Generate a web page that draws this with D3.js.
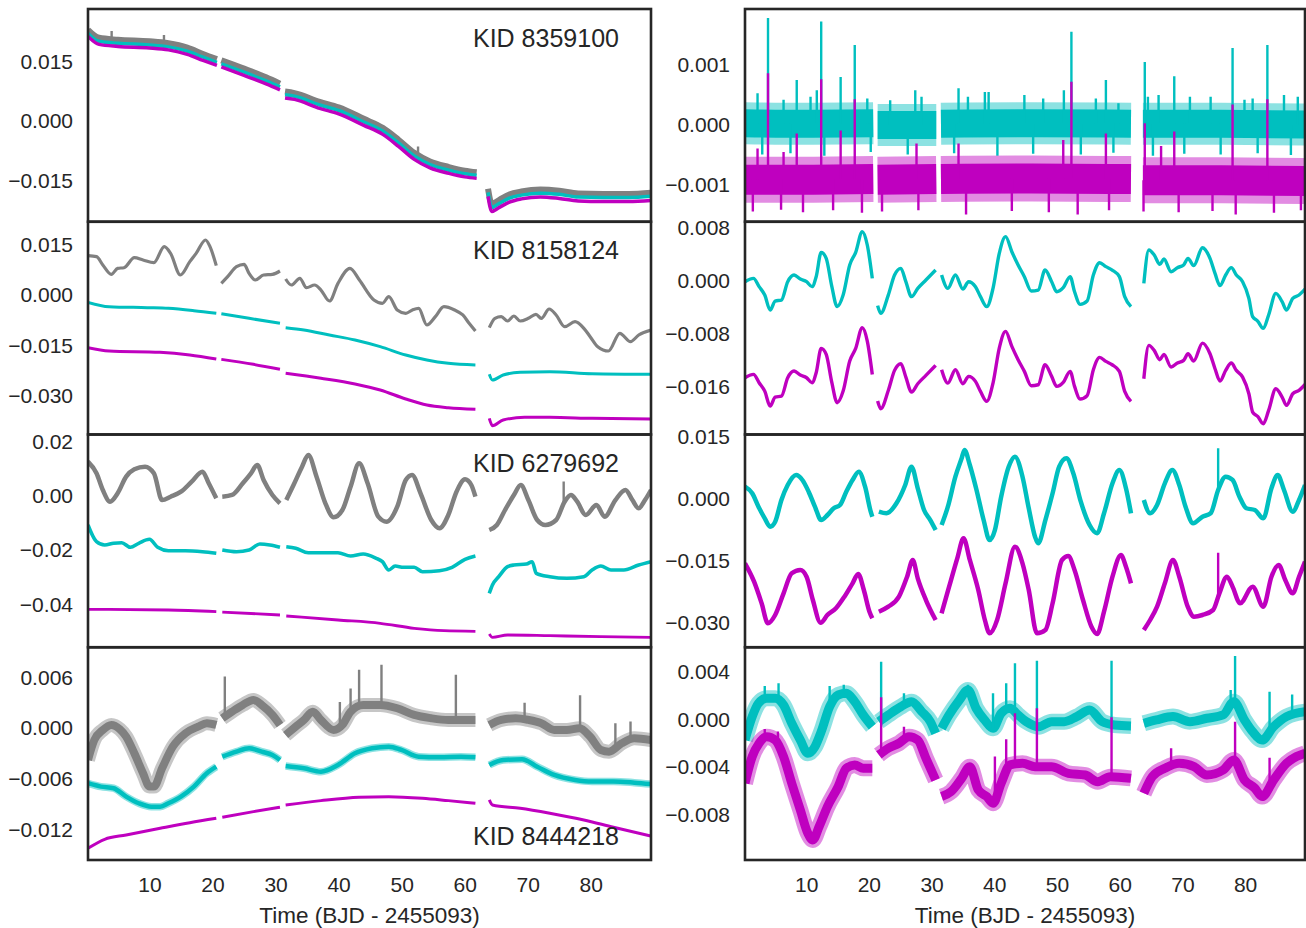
<!DOCTYPE html>
<html><head><meta charset="utf-8">
<script src="https://cdn.jsdelivr.net/npm/d3@7"></script>
<style>body{margin:0;background:#fff;} svg{display:block;font-family:"Liberation Sans",Arial,sans-serif;}</style>
</head><body><svg id="chart" width="1306" height="928"></svg>
<script>
const N = null;
// ---------- time axis ----------
const timeDomain = [0.25, 89.55];
const xTicks = [10, 20, 30, 40, 50, 60, 70, 80];
const xLabel = "Time (BJD - 2455093)";
const kidLabels = ["KID 8359100", "KID 8158124", "KID 6279692", "KID 8444218"];

// ---------- y ticks ----------
const p1Ticks = [0.015, 0, -0.015];
const p2Ticks = [0.015, 0, -0.015, -0.030];
const p3Ticks = [0.02, 0, -0.02, -0.04];
const p4Ticks = [0.006, 0, -0.006, -0.012];
const p5Ticks = [0.001, 0, -0.001];
const p6Ticks = [0.008, 0, -0.008, -0.016];
const p7Ticks = [0.015, 0, -0.015, -0.030];
const p8Ticks = [0.004, 0, -0.004, -0.008];

// ---------- panel 1 : KID 8359100 (raw) ----------
const p1Gray = [[0.25,0.0231],[2,0.0211],[5,0.0206],[10,0.0202],[13,0.0197],[16,0.0186],[18.5,0.0170],[20.7,0.0157],N,[21.4,0.0154],[25,0.0133],[28.5,0.0111],[30.7,0.0095],N,[31.5,0.0075],[33,0.0071],[37,0.0049],[40,0.0035],[44,0.0006],[47,-0.0017],[49.5,-0.0047],[52,-0.0080],[54.5,-0.0102],[57.5,-0.0116],[60,-0.0125],[61.9,-0.0129],N,[63.7,-0.0171],[64.3,-0.0209],[65.5,-0.0199],[67,-0.0186],[69,-0.0178],[72,-0.0173],[75,-0.0176],[78,-0.0183],[82,-0.0184],[86,-0.0184],[89.55,-0.0181]];
const p1Cyan = [[0.25,0.0222],[2,0.0202],[5,0.0197],[10,0.0193],[13,0.0188],[16,0.0177],[18.5,0.0162],[20.7,0.0149],N,[21.4,0.0145],[25,0.0124],[28.5,0.0102],[30.7,0.0087],N,[31.5,0.0067],[33,0.0063],[37,0.0041],[40,0.0027],[44,-0.0002],[47,-0.0025],[49.5,-0.0055],[52,-0.0088],[54.5,-0.0110],[57.5,-0.0124],[60,-0.0133],[61.9,-0.0137],N,[63.7,-0.0180],[64.3,-0.0218],[65.5,-0.0208],[67,-0.0195],[69,-0.0187],[72,-0.0182],[75,-0.0185],[78,-0.0192],[82,-0.0193],[86,-0.0193],[89.55,-0.0190]];
const p1Mag = [[0.25,0.02145],[2,0.01943],[5,0.01892],[10,0.01854],[13,0.01804],[16,0.0169],[18.5,0.01538],[20.7,0.01411],N,[21.4,0.01374],[25,0.01159],[28.5,0.00944],[30.7,0.00792],N,[31.5,0.00589],[33,0.00551],[37,0.00324],[40,0.00185],[44,-0.00106],[47,-0.00334],[49.5,-0.00637],[52,-0.00966],[54.5,-0.01181],[57.5,-0.01321],[60,-0.01409],[61.9,-0.01447],N,[63.7,-0.01902],[64.3,-0.02282],[65.5,-0.02181],[67,-0.02054],[69,-0.01966],[72,-0.01915],[75,-0.01953],[78,-0.02016],[82,-0.02029],[86,-0.02029],[89.55,-0.02004]];
const p1GraySpikes = [[4.0,0.0228],[12.3,0.0218],[52.6,-0.0064]];

// ---------- panel 2 : KID 8158124 ----------
const p2Gray = [[0.25,0.01167],[1.6,0.01137],[2.6,0.0089],[3.95,0.00613],[4.95,0.00791],[5.96,0.0081],[7.6,0.01107],[8.98,0.01038],[10.7,0.00959],[12.35,0.01434],[13.35,0.01236],[14.9,0.00593],[16.4,0.00989],[17.4,0.01236],[18.9,0.01632],[19.6,0.01434],[20.6,0.0087],N,
 [21.4,0.00346],[22.4,0.00544],[23.8,0.0084],[25.0,0.0091],[25.8,0.00643],[26.8,0.00445],[28.1,0.00593],[29.5,0.00613],[30.7,0.00712],N,
 [31.6,0.00475],[32.5,0.00297],[33.85,0.00494],[34.9,0.00218],[36.2,0.00297],[37.2,0.00148],[38.55,-0.00178],[39.9,0.00346],[41.8,0.00791],[43.3,0.00445],[45.6,-0.00148],[46.95,-0.00247],[47.96,-0.0005],[49.3,-0.00445],[50.65,-0.00544],[51.7,-0.00445],[52.7,-0.00396],[54.0,-0.0089],[55.35,-0.00643],[56.7,-0.00346],[58.4,-0.00445],[59.7,-0.00593],[60.7,-0.0084],[61.7,-0.01068],N,
 [63.9,-0.00969],[64.8,-0.00692],[65.8,-0.00643],[66.8,-0.00771],[67.8,-0.00623],[68.8,-0.00771],[70.1,-0.00692],[71.3,-0.00573],[72.15,-0.00692],[73.4,-0.00415],[74.5,-0.00593],[75.85,-0.0094],[77.5,-0.00791],[78.9,-0.00989],[79.9,-0.01236],[81.1,-0.01533],[82.8,-0.01661],[84.6,-0.01137],[86.3,-0.01384],[87.6,-0.01187],[89.55,-0.01038]];
const p2Cyan = [[0.25,-0.00217],[3.6,-0.00346],[9.65,-0.00376],[13,-0.00396],[17.05,-0.00465],[20.6,-0.00544],N,[21.4,-0.00554],[25.8,-0.00692],[30.7,-0.0084],N,[31.6,-0.00969],[34.5,-0.01038],[38.55,-0.01187],[42.6,-0.01335],[46.6,-0.01533],[50.65,-0.0178],[54.0,-0.01928],[57.4,-0.02027],[61.7,-0.02077],N,[63.9,-0.02353],[64.4,-0.02522],[66.1,-0.02373],[68.8,-0.02294],[73.5,-0.02274],[80.2,-0.02334],[89.55,-0.02353]];
const p2Mag = [[0.25,-0.01562],[3.6,-0.01661],[11.65,-0.017],[16.4,-0.0178],[20.6,-0.01899],N,[21.4,-0.01909],[26.5,-0.02057],[30.7,-0.02205],N,[31.6,-0.02324],[37.2,-0.02472],[42.6,-0.0264],[46.6,-0.02818],[50.65,-0.03085],[54,-0.03263],[57.4,-0.03343],[61.7,-0.03392],N,[63.9,-0.03659],[64.4,-0.03877],[66.1,-0.03708],[69.5,-0.03629],[73.5,-0.03629],[80.2,-0.03659],[89.55,-0.03678]];

// ---------- panel 3 : KID 6279692 ----------
const p3Gray = [[0.25,0.0125],[1.6,0.00824],[2.6,0.0021],[3.75,-0.0022],[4.95,0.00088],[6.3,0.007],[7.6,0.0097],[9.3,0.01067],[10.7,0.00824],[12.0,-0.0016],[13.35,-0.00037],[15.0,0.00147],[16.7,0.00515],[18.4,0.00882],[19.4,0.00456],[20.6,-0.00096],N,
 [21.55,-0.00037],[23.1,0.00026],[24.8,0.00456],[26.1,0.00824],[27.1,0.01129],[28.1,0.00577],[29.5,0.00026],[30.7,-0.0028],N,
 [31.7,-0.0016],[32.85,0.00393],[34.2,0.01067],[35.2,0.01496],[36.5,0.007],[37.9,-0.0028],[39.2,-0.00794],[40.6,-0.00526],[41.9,0.00331],[43.25,0.01191],[44.6,0.00456],[46.3,-0.00772],[47.6,-0.00956],[49.3,-0.00404],[50.65,0.00577],[51.65,0.00761],[53.0,0.00088],[54.7,-0.00893],[56.0,-0.01199],[57.4,-0.0071],[58.7,0.00147],[60.05,0.00603],[61.05,0.00393],[61.7,-0.00037],N,
 [63.9,-0.01261],[65.1,-0.01077],[66.4,-0.00526],[67.8,0.00026],[68.9,0.00393],[70.1,-0.0016],[71.5,-0.00893],[72.8,-0.01077],[74.5,-0.00893],[75.85,-0.0022],[76.85,0.00026],[77.85,-0.0022],[79.2,-0.0071],[80.9,-0.00343],[82.2,-0.00772],[83.9,-0.0016],[85.5,0.0021],[86.6,-0.0016],[87.6,-0.00464],[88.6,-0.0016],[89.55,0.0021]];
const p3GraySpikes = [[75.7,0.0052]];
const p3Cyan = [[0.25,-0.01077],[1.6,-0.01691],[2.9,-0.01813],[4.3,-0.0175],[5.6,-0.01728],[6.97,-0.01897],[8.3,-0.0175],[10.0,-0.01603],[11.3,-0.01897],[13.0,-0.02022],[15.7,-0.02022],[18.4,-0.02059],[20.6,-0.02118],N,
 [21.55,-0.01996],[23.8,-0.02059],[25.8,-0.01996],[27.5,-0.01776],[29.1,-0.01813],[30.7,-0.01897],N,
 [31.7,-0.01875],[33.2,-0.01934],[35.2,-0.02096],[37.9,-0.02096],[39.9,-0.02096],[41.9,-0.02217],[43.9,-0.02143],[45.96,-0.02301],[46.95,-0.02426],[47.96,-0.02732],[48.97,-0.02585],[50.3,-0.02632],[51.99,-0.02632],[53.3,-0.02794],[56.0,-0.02757],[58.0,-0.02632],[60.05,-0.02338],[61.7,-0.02217],N,
 [63.9,-0.03588],[64.4,-0.03283],[65.4,-0.02978],[66.8,-0.0261],[67.8,-0.02548],[69.8,-0.02511],[70.7,-0.02426],[71.35,-0.02853],[73.5,-0.02978],[76.2,-0.03037],[78.9,-0.02978],[80.2,-0.02732],[81.6,-0.02585],[83.2,-0.02732],[85.25,-0.02732],[87.6,-0.02548],[89.55,-0.02426]];
const p3Mag = [[0.25,-0.04177],[13,-0.04203],[20.6,-0.04265],N,[21.55,-0.04277],[30.7,-0.04387],N,[31.7,-0.04423],[39.9,-0.0457],[46.6,-0.04692],[51.99,-0.04875],[56.7,-0.04963],[61.7,-0.04985],N,[63.9,-0.05085],[64.4,-0.05206],[66.8,-0.05121],[73.5,-0.05147],[81.6,-0.05184],[89.55,-0.05206]];

// ---------- panel 4 : KID 8444218 ----------
const p4Gray = [[0.25,-0.00374],[1.25,-0.00138],[2.6,-0.0002],[3.95,0.00039],[5.3,-0.00012],[6.3,-0.00099],[7.6,-0.00295],[8.98,-0.0053],[10.0,-0.00688],[10.7,-0.00688],[12.0,-0.00472],[13.7,-0.00217],[15.7,-0.00059],[17.7,0.00019],[19.1,0.00059],[20.6,0.00039],N,
 [21.55,0.00118],[23.1,0.00196],[24.8,0.00275],[26.5,0.00334],[27.8,0.00275],[29.5,0.00157],[30.7,0.00039],N,
 [31.6,-0.00079],[33.2,0.00019],[34.5,0.00098],[35.9,0.00196],[37.2,0.00098],[39.2,-0.0002],[40.6,0.00039],[41.9,0.00196],[43.9,0.00275],[46.6,0.00275],[49.3,0.00236],[51.99,0.00157],[54.7,0.00118],[57.4,0.00098],[60.05,0.00098],[61.7,0.00098],N,
 [63.9,0.00039],[65.8,0.00098],[68.1,0.00118],[70.1,0.00098],[72.15,0.00059],[74.2,-0.0002],[76.2,-0.0002],[78.2,0.0],[79.9,-0.00099],[81.6,-0.00256],[82.9,-0.00276],[84.9,-0.00177],[86.9,-0.00118],[89.55,-0.00138]];
const p4GraySpikes = [[21.95,0.0061],[40.2,0.0031],[41.9,0.0047],[43.25,0.0069],[46.8,0.0075],[58.6,0.0063],[69.5,0.0030],[78.3,0.0039],[83.9,0.0006],[86.3,0.0008]];
const p4Cyan = [[0.25,-0.00648],[2.3,-0.00688],[4.3,-0.00707],[6.3,-0.00806],[8.3,-0.00884],[10.3,-0.00924],[11.7,-0.00924],[13.0,-0.00884],[15.0,-0.00806],[17.05,-0.00688],[19.1,-0.0053],[20.6,-0.00453],N,
 [21.55,-0.00335],[23.8,-0.00276],[25.8,-0.00236],[27.8,-0.00276],[29.5,-0.00315],[30.7,-0.00374],N,
 [31.6,-0.00444],[34.5,-0.00472],[37.2,-0.00512],[39.9,-0.00433],[42.6,-0.00295],[45.3,-0.00236],[47.96,-0.00217],[49.97,-0.00256],[52.7,-0.00335],[56.0,-0.00342],[59.4,-0.00335],[61.7,-0.00342],N,
 [63.9,-0.00433],[66.1,-0.00374],[69.1,-0.00365],[71.5,-0.00453],[74.2,-0.0055],[77.5,-0.00609],[80.2,-0.00628],[83.6,-0.00628],[86.9,-0.00641],[89.55,-0.00657]];
const p4Mag = [[0.25,-0.01415],[2.9,-0.01309],[6.3,-0.01258],[11.7,-0.01179],[16.4,-0.01113],[20.6,-0.01061],N,[21.55,-0.01049],[26.5,-0.00983],[30.7,-0.00931],N,[31.6,-0.00904],[37.2,-0.00853],[43.25,-0.00813],[47.96,-0.00806],[53.3,-0.00825],[57.4,-0.00853],[61.7,-0.00884],N,[63.9,-0.00845],[64.4,-0.00904],[68.8,-0.00943],[73.5,-0.01002],[78.9,-0.01081],[83.6,-0.01167],[89.55,-0.0127]];

// ---------- panel 5 : KID 8359100 (detrended) ----------
const p5Cyan = [[0.25,0.00002],[10,0.00001],[20.7,0.00002],N,[21.4,-0.00001],[30.75,-0.00001],N,[31.5,0.00001],[46,0.00002],[61.8,0.00001],N,[63.7,0.00001],[76,0.00001],[89.55,0.00000]];
const p5Mag = [[0.25,-0.00092],[10,-0.00092],[20.7,-0.00091],N,[21.4,-0.00092],[30.75,-0.00091],N,[31.5,-0.00091],[46,-0.0009],[61.8,-0.00091],N,[63.7,-0.00093],[76,-0.00093],[89.55,-0.00094]];
const p5CyanSpikes = [[3.92,0.00177],[12.4,0.00171],[17.75,0.00132],[52.3,0.00154],[64.0,0.00104],[78.0,0.00127],[83.55,0.00132],[8.5,0.00074],[15.5,0.00079],[57.8,0.00074],[68.7,0.0008],[27.4,0.00057],[34.3,0.0006],
 [2.25,0.00052],[6.4,0.00041],[10.7,0.00046],[11.7,0.00057],[19.75,0.00043],[23.4,0.0004],[28.4,0.00046],[35.8,0.00046],[38.5,0.00054],[39.1,0.00054],[44.8,0.00049],[47.8,0.00043],[51.1,0.00057],[56.2,0.00043],[59.8,0.00035],[64.5,0.00046],[66.2,0.00049],[71.2,0.00046],[74.5,0.00046],[79.9,0.00041],[81.2,0.00043],[86.2,0.00049],[88.4,0.00046],
 [3.0,-0.0005],[7.5,-0.00048],[12.9,-0.00052],[20.3,-0.00046],[26.2,-0.0005],[33.6,-0.00048],[40.5,-0.00052],[46.2,-0.00049],[53.8,-0.0005],[59.0,-0.00047],[65.3,-0.00052],[70.3,-0.00049],[76.1,-0.0005],[82.0,-0.00048],[87.3,-0.00051]];
const p5MagSpikes = [[3.92,0.00085],[12.4,0.00075],[17.75,0.00042],[52.3,0.00071],[64.0,0.00002],[78.0,0.00033],[83.55,0.00042],[8.5,-0.00015],[15.5,-0.0001],[27.6,-0.00032],[34.3,-0.00032],[57.8,-0.00015],[51.0,-0.00026],[68.7,-0.00012],[66.6,-0.00036],[2.25,-0.0004],[6.4,-0.00046],
 [1.5,-0.00145],[6.0,-0.00142],[9.5,-0.00146],[14.3,-0.00143],[18.9,-0.00147],[22.1,-0.00145],[27.9,-0.00143],[35.5,-0.0015],[42.8,-0.00144],[48.7,-0.00146],[53.3,-0.0015],[58.3,-0.00143],[63.8,-0.00145],[69.4,-0.00146],[74.8,-0.00144],[78.5,-0.0015],[84.6,-0.00147],[88.9,-0.00143]];

// ---------- panel 6 : KID 8158124 (detrended) ----------
const p6Cyan = [[0.25,-0.0002],[1.6,0.0003],[2.5,-0.00095],[3.4,-0.00222],[4.26,-0.00448],[5.06,-0.00312],[6.06,-0.00297],[7.06,-0.0002],[8.07,0.00081],[9.07,0.0002],[10.07,-0.0002],[10.94,-0.00095],[11.6,0.00056],[12.4,0.00423],[13.2,0.00332],[14.1,-0.00095],[14.95,-0.00397],[15.9,-0.00222],[16.95,0.00232],[17.9,0.00423],[18.95,0.00735],[19.75,0.00534],[20.55,0.0003],N,
 [21.4,-0.00382],[21.9,-0.00498],[23.1,-0.00222],[24.1,0.00081],[25.1,0.00181],[25.9,-0.0002],[26.8,-0.00246],[27.8,-0.00121],[29.1,0.00005],[30.65,0.00156],N,
 [31.6,0.00081],[32.6,-0.00121],[33.8,0.00081],[35.0,-0.00131],[35.9,-0.0002],[37.0,-0.00095],[37.8,-0.00246],[38.8,-0.00397],[39.8,-0.00121],[40.8,0.00408],[41.8,0.0066],[42.8,0.00433],[43.8,0.00232],[44.8,0.00056],[45.9,-0.00161],[47.0,-0.00146],[48.1,0.00156],[49.15,-0.0002],[49.95,-0.00171],[51.0,-0.0011],[52.1,0.00056],[52.8,-0.00171],[53.7,-0.00362],[54.8,-0.00312],[55.8,0.00081],[56.8,0.00267],[57.8,0.00207],[58.8,0.00156],[59.95,0.00056],[60.8,-0.00246],[61.8,-0.00397],N,
 [63.85,-0.00045],[64.65,0.00458],[65.5,0.00383],[66.4,0.00242],[67.05,0.00322],[68.2,0.00131],[69.2,0.00192],[70.2,0.00232],[70.9,0.00332],[71.8,0.00222],[73.2,0.00493],[74.4,0.00332],[75.2,0.00106],[76.0,-0.0008],[76.9,0.00081],[77.8,0.00192],[78.6,0.00081],[79.6,-0.0002],[80.6,-0.00272],[81.2,-0.00548],[82.0,-0.00614],[82.9,-0.00725],[83.75,-0.00523],[84.9,-0.00196],[85.9,-0.00322],[86.6,-0.00448],[87.6,-0.00272],[88.6,-0.00221],[89.55,-0.00131]];
const p6Mag = [[0.25,-0.0147],[1.6,-0.0142],[2.5,-0.01545],[3.4,-0.01672],[4.26,-0.01898],[5.06,-0.01762],[6.06,-0.01747],[7.06,-0.0147],[8.07,-0.01369],[9.07,-0.0143],[10.07,-0.0147],[10.94,-0.01545],[11.6,-0.01394],[12.4,-0.01027],[13.2,-0.01118],[14.1,-0.01545],[14.95,-0.01847],[15.9,-0.01672],[16.95,-0.01218],[17.9,-0.01027],[18.95,-0.00715],[19.75,-0.00916],[20.55,-0.0142],N,
 [21.4,-0.01822],[21.9,-0.01938],[23.1,-0.01662],[24.1,-0.01359],[25.1,-0.01259],[25.9,-0.0146],[26.8,-0.01686],[27.8,-0.01561],[29.1,-0.01435],[30.65,-0.01284],N,
 [31.6,-0.01349],[32.6,-0.01551],[33.8,-0.01349],[35.0,-0.01561],[35.9,-0.0145],[37.0,-0.01525],[37.8,-0.01676],[38.8,-0.01827],[39.8,-0.01551],[40.8,-0.01022],[41.8,-0.0077],[42.8,-0.00997],[43.8,-0.01198],[44.8,-0.01374],[45.9,-0.01591],[47.0,-0.01576],[48.1,-0.01274],[49.15,-0.0145],[49.95,-0.01601],[51.0,-0.0154],[52.1,-0.01374],[52.8,-0.01601],[53.7,-0.01792],[54.8,-0.01742],[55.8,-0.01349],[56.8,-0.01163],[57.8,-0.01223],[58.8,-0.01274],[59.95,-0.01374],[60.8,-0.01676],[61.8,-0.01827],N,
 [63.85,-0.01485],[64.65,-0.00982],[65.5,-0.01057],[66.4,-0.01198],[67.05,-0.01118],[68.2,-0.01309],[69.2,-0.01248],[70.2,-0.01208],[70.9,-0.01108],[71.8,-0.01218],[73.2,-0.00947],[74.4,-0.01108],[75.2,-0.01334],[76.0,-0.0152],[76.9,-0.01359],[77.8,-0.01248],[78.6,-0.01359],[79.6,-0.0146],[80.6,-0.01712],[81.2,-0.01988],[82.0,-0.02054],[82.9,-0.02165],[83.75,-0.01963],[84.9,-0.01636],[85.9,-0.01762],[86.6,-0.01888],[87.6,-0.01712],[88.6,-0.01661],[89.55,-0.01571]];

// ---------- panel 7 : KID 6279692 (detrended) ----------
const p7Cyan = [[0.25,0.00289],[1.4,0.0013],[2.4,-0.00193],[3.4,-0.00473],[4.26,-0.00675],[5.06,-0.00555],[6.06,-0.00031],[7.06,0.0033],[8.4,0.00572],[9.4,0.00451],[10.4,0.00169],[11.4,-0.00193],[12.4,-0.00514],[13.4,-0.00393],[14.4,-0.00231],[15.4,-0.00152],[16.4,0.00169],[17.4,0.00451],[18.4,0.00651],[19.4,0.00289],[20.3,-0.00313],[20.55,-0.00434],N,
 [21.6,-0.00313],[22.8,-0.00352],[24.4,-0.00111],[25.8,0.0033],[26.8,0.00772],[27.8,0.00251],[28.8,-0.00272],[29.8,-0.00514],[30.65,-0.00755],N,
 [31.6,-0.00634],[32.6,-0.00193],[33.8,0.00531],[34.8,0.00974],[35.25,0.01174],[36.1,0.00813],[37.1,0.00251],[38.3,-0.00514],[39.25,-0.00996],[40.1,-0.00755],[41.1,0.00048],[42.3,0.00772],[43.3,0.01013],[44.5,0.00531],[45.5,-0.00231],[46.5,-0.00916],[47.0,-0.01076],[48.15,-0.00514],[49.3,0.0013],[50.35,0.00772],[51.5,0.00974],[52.6,0.00612],[53.8,-0.00072],[55.2,-0.00634],[56.4,-0.00834],[57.5,-0.00352],[58.85,0.00371],[59.95,0.00692],[61.0,0.00251],[61.8,-0.00352],N,
 [63.85,-0.00031],[64.85,-0.00352],[65.96,-0.00152],[67.2,0.00371],[68.4,0.00692],[69.5,0.0033],[70.5,-0.00193],[71.7,-0.00593],[73.2,-0.00434],[74.5,-0.00352],[75.7,0.0021],[76.9,0.00531],[78.0,0.00451],[79.1,0.00048],[80.2,-0.00231],[81.55,-0.00272],[82.9,-0.00473],[84.2,0.00251],[85.2,0.00572],[86.2,0.0021],[87.6,-0.00313],[88.6,-0.00031],[89.55,0.0033]];
const p7CyanSpikes = [[75.7,0.01215]];
const p7Mag = [[0.25,-0.01558],[1.7,-0.02001],[2.9,-0.02522],[3.9,-0.03005],[5.06,-0.02804],[6.4,-0.02281],[7.7,-0.01799],[9.07,-0.01719],[10.07,-0.01881],[11.07,-0.02443],[12.3,-0.0299],[13.4,-0.02804],[14.75,-0.02643],[16.1,-0.02363],[17.4,-0.0204],[18.3,-0.01816],[19.2,-0.02202],[20.1,-0.02725],[20.55,-0.02884],N,
 [21.6,-0.02725],[23.1,-0.02604],[24.8,-0.02363],[26.1,-0.01881],[27.0,-0.01478],[27.8,-0.01919],[29.1,-0.02443],[30.65,-0.02925],N,
 [31.6,-0.02763],[32.8,-0.02122],[34.1,-0.01437],[35.1,-0.00955],[36.1,-0.01478],[37.45,-0.02202],[38.5,-0.02925],[39.25,-0.03246],[40.45,-0.02925],[41.8,-0.0204],[43.3,-0.01157],[44.5,-0.01558],[45.5,-0.02202],[46.8,-0.03246],[48.15,-0.03166],[49.3,-0.02522],[50.8,-0.01478],[51.8,-0.01382],[52.8,-0.01719],[54.15,-0.02443],[55.5,-0.03087],[56.4,-0.03263],[57.5,-0.02725],[58.85,-0.01881],[60.2,-0.01358],[61.0,-0.0164],[61.8,-0.0204],N,
 [63.85,-0.03166],[64.85,-0.02925],[65.96,-0.02604],[67.2,-0.0204],[68.5,-0.01478],[69.5,-0.01881],[70.85,-0.02604],[71.85,-0.02845],[73.2,-0.02804],[74.9,-0.02684],[75.9,-0.02281],[77.1,-0.01881],[78.0,-0.02122],[79.2,-0.02522],[81.2,-0.02122],[82.9,-0.02604],[84.2,-0.01881],[85.35,-0.01599],[86.4,-0.0196],[87.6,-0.02281],[88.6,-0.01881],[89.55,-0.01519]];
const p7MagSpikes = [[75.7,-0.01306]];

// ---------- panel 8 : KID 8444218 (detrended) ----------
const p8Cyan = [[0.25,-0.00172],[1.4,0.00024],[2.4,0.00136],[3.7,0.00178],[5.06,0.00178],[6.4,0.00121],[7.7,-0.00032],[9.07,-0.00172],[10.27,-0.00283],[11.4,-0.00228],[12.4,-0.00102],[13.75,0.00107],[15.1,0.00205],[16.4,0.00219],[17.75,0.00149],[19.1,0.00038],[20.55,-0.0006],N,
 [21.6,-0.00018],[23.1,0.00038],[25.1,0.00107],[26.8,0.00149],[28.45,0.00065],[29.8,-0.00018],[30.65,-0.00116],N,
 [31.6,-0.00074],[32.8,0.00038],[34.45,0.00163],[35.8,0.00247],[37.1,0.00094],[38.45,-0.00004],[39.8,-0.00074],[41.1,0.00052],[42.5,0.00094],[43.8,0.00038],[45.1,-0.00018],[47.1,-0.0006],[49.15,-0.00018],[51.15,-0.00018],[53.15,0.00024],[55.2,0.0008],[57.2,-0.00018],[59.2,-0.00046],[61.8,-0.00054],N,
 [63.85,-0.00032],[65.85,-0.00004],[68.5,0.00024],[71.2,-0.00018],[73.9,0.0001],[76.5,0.00038],[78.2,0.00149],[79.9,-0.00004],[81.2,-0.00102],[82.7,-0.00172],[84.55,-0.0006],[86.6,0.00024],[89.55,0.00065]];
const p8CyanSpikes = [[21.96,0.00484],[43.3,0.00471],[46.8,0.00492],[58.7,0.00492],[78.4,0.00532],[41.9,0.00303],[39.8,0.00219],[83.9,0.00233],[77.7,0.00247],[5.6,0.00303],[13.75,0.0028],[3.4,0.0028],[16.0,0.0029],[25.6,0.0022],[35.8,0.0029],[87.5,0.0021]];
const p8Mag = [[0.25,-0.00534],[1.4,-0.00311],[2.5,-0.00199],[3.7,-0.00144],[5.06,-0.00172],[6.4,-0.00311],[7.7,-0.00534],[9.07,-0.00758],[10.27,-0.00953],[11.07,-0.01009],[12.07,-0.00898],[13.4,-0.0073],[15.1,-0.00563],[16.4,-0.00409],[17.75,-0.00381],[19.1,-0.00409],[20.55,-0.00409],N,
 [21.6,-0.00297],[23.1,-0.00241],[24.8,-0.00199],[26.4,-0.00144],[27.8,-0.00172],[29.1,-0.00325],[30.65,-0.00507],N,
 [31.6,-0.00646],[33.1,-0.00605],[34.8,-0.00493],[36.1,-0.00395],[37.45,-0.0059],[38.8,-0.00646],[39.8,-0.00702],[41.1,-0.00534],[42.5,-0.00381],[44.5,-0.00367],[46.5,-0.00395],[49.15,-0.00395],[51.8,-0.00451],[54.5,-0.00465],[56.5,-0.00521],[58.5,-0.00479],[61.8,-0.00493],N,
 [63.85,-0.00618],[65.2,-0.00479],[67.2,-0.00409],[69.5,-0.00367],[71.85,-0.00395],[73.9,-0.00465],[76.5,-0.00423],[78.2,-0.00339],[79.9,-0.00507],[81.55,-0.00576],[82.7,-0.00646],[84.55,-0.00507],[86.6,-0.00367],[88.2,-0.00311],[89.55,-0.00283]];
const p8MagSpikes = [[21.96,0.00186],[43.3,0.00052],[46.8,0.00094],[58.7,0.00018],[78.4,-0.00018],[41.9,-0.00166],[40.1,-0.00311],[25.6,-0.00061],[83.9,-0.0032],[68.2,-0.0024],[3.4,-0.0008],[5.5,-0.001]];

// ---------- rendering ----------
const GRAY = "#808080", CYAN = "#00BFBF", MAG = "#BF00BF", INK = "#262626";
const panels = [
  {col:0,row:0,yDomain:[-0.02544,0.02838],ticks:p1Ticks,fmt:".3f",kid:0,series:[{d:p1Gray,c:GRAY,w:6,s:p1GraySpikes},{d:p1Cyan,c:CYAN,w:3.5},{d:p1Mag,c:MAG,w:3.5}]},
  {col:0,row:1,yDomain:[-0.04138,0.02173],ticks:p2Ticks,fmt:".3f",kid:1,series:[{d:p2Gray,c:GRAY,w:3.2},{d:p2Cyan,c:CYAN,w:3},{d:p2Mag,c:MAG,w:3}]},
  {col:0,row:2,yDomain:[-0.05572,0.0225],ticks:p3Ticks,fmt:".2f",kid:2,series:[{d:p3Gray,c:GRAY,w:4.5,s:p3GraySpikes},{d:p3Cyan,c:CYAN,w:3.6},{d:p3Mag,c:MAG,w:2.8}]},
  {col:0,row:3,yDomain:[-0.01553,0.00955],ticks:p4Ticks,fmt:".3f",kid:3,series:[{d:p4Gray,c:GRAY,w:8,h:14,s:p4GraySpikes},{d:p4Cyan,c:CYAN,w:4.5,h:7.5},{d:p4Mag,c:MAG,w:3}]},
  {col:1,row:0,yDomain:[-0.00162,0.00192],ticks:p5Ticks,fmt:".3f",series:[{d:p5Cyan,c:CYAN,w:28,h:42,s:p5CyanSpikes},{d:p5Mag,c:MAG,w:30,h:46,s:p5MagSpikes}]},
  {col:1,row:1,yDomain:[-0.02327,0.00885],ticks:p6Ticks,fmt:".3f",series:[{d:p6Cyan,c:CYAN,w:3.4},{d:p6Mag,c:MAG,w:3.4}]},
  {col:1,row:2,yDomain:[-0.03582,0.01548],ticks:p7Ticks,fmt:".3f",series:[{d:p7Cyan,c:CYAN,w:4.5,s:p7CyanSpikes},{d:p7Mag,c:MAG,w:4.5,s:p7MagSpikes}]},
  {col:1,row:3,yDomain:[-0.01177,0.00605],ticks:p8Ticks,fmt:".3f",series:[{d:p8Cyan,c:CYAN,w:9,h:16,s:p8CyanSpikes},{d:p8Mag,c:MAG,w:9,h:16,s:p8MagSpikes}]}
];

const colX = [88, 745], colW = [563, 560], top0 = 9, rowH = 212.75;
const svg = d3.select("#chart");
const defs = svg.append("defs");
const FONT = '"Liberation Sans", Arial, sans-serif';

function valueAt(data, t) {
  for (let i = 0; i < data.length - 1; i++) {
    const a = data[i], b = data[i + 1];
    if (a && b && t >= a[0] && t <= b[0]) return a[1] + (b[1] - a[1]) * (t - a[0]) / (b[0] - a[0]);
  }
  return null;
}

panels.forEach((p, i) => {
  const x0 = colX[p.col], w = colW[p.col], y0 = top0 + p.row * rowH, h = rowH;
  const x = d3.scaleLinear().domain(timeDomain).range([x0, x0 + w]);
  const y = d3.scaleLinear().domain(p.yDomain).range([y0 + h, y0]);
  const cid = "clip" + i;
  defs.append("clipPath").attr("id", cid).append("rect").attr("x", x0).attr("y", y0).attr("width", w).attr("height", h);
  const g = svg.append("g").attr("clip-path", `url(#${cid})`);
  const line = d3.line().defined(d => d !== null).x(d => x(d[0])).y(d => y(d[1])).curve(d3.curveMonotoneX);
  p.series.forEach(s => {
    const sg = g.append("g");
    if (s.h) {
      sg.append("path").attr("d", line(s.d)).attr("fill", "none").attr("stroke", s.c)
        .attr("stroke-width", s.h).attr("stroke-opacity", 0.45).attr("stroke-linejoin", "round");
    }
    sg.append("path").attr("d", line(s.d)).attr("fill", "none").attr("stroke", s.c)
      .attr("stroke-width", s.w).attr("stroke-linejoin", "round");
    (s.s || []).forEach(sp => {
      const base = valueAt(s.d, sp[0]);
      if (base === null) return;
      sg.append("line").attr("x1", x(sp[0])).attr("x2", x(sp[0]))
        .attr("y1", y(base)).attr("y2", y(sp[1])).attr("stroke", s.c).attr("stroke-width", 2.4);
    });
  });
  // y tick labels
  const ya = svg.append("g").attr("transform", `translate(${x0},0)`)
    .call(d3.axisLeft(y).tickValues(p.ticks).tickSize(0).tickPadding(15).tickFormat(d3.format(p.fmt)));
  ya.select(".domain").remove();
  ya.selectAll("text").attr("font-size", 21).attr("fill", INK).attr("font-family", FONT);
  // x tick labels on the bottom row
  if (p.row === 3) {
    const xa = svg.append("g").attr("transform", `translate(0,${y0 + h})`)
      .call(d3.axisBottom(x).tickValues(xTicks).tickSize(0).tickPadding(17.5).tickFormat(d3.format("d")));
    xa.select(".domain").remove();
    xa.selectAll("text").attr("font-size", 21).attr("fill", INK).attr("font-family", FONT);
    svg.append("text").attr("x", x0 + w / 2).attr("y", 923).attr("text-anchor", "middle")
      .attr("font-size", 22.5).attr("fill", INK).attr("font-family", FONT).text(xLabel);
  }
  // KID label
  if (p.kid !== undefined) {
    svg.append("text").attr("x", x0 + 385).attr("y", p.row === 3 ? y0 + 197.3 : y0 + 37.7)
      .attr("font-size", 25).attr("fill", INK).attr("font-family", FONT).text(kidLabels[p.kid]);
  }
  // frame
  svg.append("rect").attr("x", x0).attr("y", y0).attr("width", w).attr("height", h)
    .attr("fill", "none").attr("stroke", INK).attr("stroke-width", 2.6);
});
</script>
</body></html>
